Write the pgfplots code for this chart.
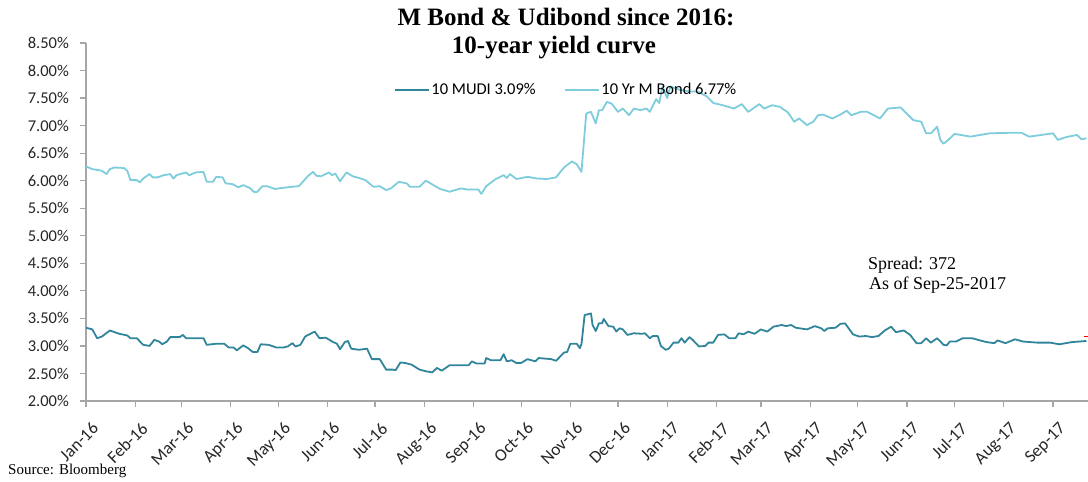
\documentclass[border=0pt]{standalone}
\usepackage{fontspec}
\setmainfont{Carlito}
\newfontfamily\pala{Liberation Serif}
\usepackage{pgfplots}
\pgfplotsset{compat=1.18}
\definecolor{mudi}{RGB}{49,133,155}
\definecolor{mbond}{RGB}{125,205,220}
\definecolor{axgray}{RGB}{166,166,166}
\begin{document}
\begin{tikzpicture}
\useasboundingbox (0,0) rectangle (1088bp,482bp);
\begin{axis}[
  at={(86bp,81bp)}, anchor=south west,
  scale only axis, width=1002bp, height=358bp,
  xmin=0, xmax=631, ymin=2, ymax=8.5,
  axis x line*=bottom, axis y line*=left,
  axis line style={axgray, line width=1.5bp},
  tick style={axgray, line width=1.2bp},
  tick align=outside, major tick length=6bp,
  ytick={2,2.5,...,8.5},
  xtick={0,31,60,91,121,152,182,213,244,274,305,335,366,397,425,456,486,517,547,578,609},
  xticklabels={Jan-16,Feb-16,Mar-16,Apr-16,May-16,Jun-16,Jul-16,Aug-16,Sep-16,Oct-16,Nov-16,Dec-16,Jan-17,Feb-17,Mar-17,Apr-17,May-17,Jun-17,Jul-17,Aug-17,Sep-17},
  /pgf/number format/assume math mode=true,
  yticklabel={\pgfmathprintnumber[fixed,fixed zerofill,precision=2]{\tick}\%},
  ticklabel style={font=\fontsize{16.5bp}{19bp}\selectfont, text=black!85},
  yticklabel style={anchor=east, inner sep=0pt, xshift=-11bp},
  xticklabel style={font=\fontsize{17.5bp}{20bp}\selectfont, inner sep=0pt, xshift=5bp, yshift=-14bp, rotate=45, anchor=north east},
  legend style={at={(0.479,0.869)}, anchor=center, draw=none, fill=none,
    font=\fontsize{16.5bp}{19bp}\selectfont, legend columns=2,
    /tikz/every even column/.append style={column sep=26bp}},
  legend image code/.code={\draw[#1] (0bp,0bp) -- (34bp,0bp);},
]
\addplot[mudi, line width=1.8bp, line join=round] coordinates {
(0,3.33)(4,3.30)(7,3.14)(10,3.17)(15,3.28)(21,3.22)(26,3.19)(28,3.14)(32,3.14)(36,3.02)
(40,3.00)(43,3.11)(46,3.08)(48,3.03)(51,3.08)(53,3.16)(59,3.16)(61,3.20)(63,3.14)(69,3.14)
(74,3.14)(76,3.02)(82,3.04)(87,3.04)(90,2.97)(93,2.97)(95,2.92)(99,3.01)(102,2.96)(105,2.89)
(108,2.89)(110,3.03)(115,3.02)(120,2.97)(124,2.97)(127,2.99)(130,3.05)(132,2.99)(135,3.02)(138,3.17)
(144,3.26)(147,3.14)(151,3.15)(155,3.08)(158,3.04)(160,2.94)(163,3.07)(165,3.09)(167,2.95)(172,2.93)
(177,2.95)(180,2.76)(185,2.76)(189,2.57)(193,2.57)(195,2.56)(198,2.70)(201,2.69)(205,2.66)(210,2.57)
(214,2.54)(218,2.52)(221,2.60)(224,2.55)(229,2.65)(233,2.65)(241,2.65)(243,2.72)(246,2.68)(251,2.68)
(252,2.78)(255,2.74)(261,2.74)(263,2.85)(265,2.72)(268,2.74)(271,2.69)(274,2.69)(278,2.76)(283,2.72)
(285,2.78)(293,2.76)(296,2.73)(301,2.88)(303,2.89)(305,3.04)(309,3.04)(311,2.96)(312,3.03)(314,3.56)
(318,3.59)(319,3.38)(321,3.27)(323,3.41)(325,3.41)(326,3.49)(329,3.36)(332,3.35)(334,3.26)(336,3.32)
(338,3.30)(341,3.20)(345,3.23)(350,3.22)(352,3.23)(355,3.14)(357,3.18)(360,3.18)(362,3.00)(365,2.93)
(367,2.95)(370,3.06)(373,3.06)(375,3.14)(377,3.06)(380,3.16)(382,3.11)(386,2.99)(390,3.00)(392,3.06)
(395,3.06)(398,3.20)(402,3.21)(405,3.14)(409,3.14)(411,3.23)(414,3.21)(417,3.26)(421,3.22)(425,3.30)
(429,3.26)(433,3.35)(438,3.38)(441,3.36)(444,3.38)(447,3.33)(454,3.30)(459,3.36)(463,3.32)(465,3.27)
(467,3.32)(472,3.33)(475,3.40)(478,3.41)(481,3.29)(483,3.21)(487,3.17)(491,3.18)(495,3.16)(499,3.18)
(503,3.28)(507,3.35)(510,3.25)(515,3.28)(519,3.20)(523,3.05)(526,3.05)(529,3.14)(532,3.06)(536,3.14)
(540,3.02)(542,3.01)(544,3.08)(548,3.08)(552,3.14)(558,3.14)(563,3.10)(567,3.07)(572,3.05)(574,3.10)
(579,3.05)(585,3.12)(590,3.08)(599,3.06)(607,3.06)(613,3.03)(621,3.07)(630,3.09)
};
\addlegendentry{10 MUDI 3.09\%}
\addplot[mbond, line width=1.8bp, line join=round] coordinates {
(0,6.26)(4,6.21)(10,6.18)(13,6.12)(15,6.21)(18,6.24)(24,6.23)(26,6.18)(28,6.01)(32,6.01)
(34,5.97)(36,6.04)(40,6.12)(42,6.06)(45,6.06)(49,6.10)(53,6.12)(55,6.04)(57,6.10)(63,6.15)
(65,6.10)(69,6.15)(74,6.16)(76,5.98)(80,5.98)(82,6.07)(86,6.06)(88,5.95)(92,5.94)(96,5.88)
(99,5.92)(103,5.87)(106,5.79)(108,5.80)(111,5.90)(114,5.90)(119,5.85)(124,5.87)(130,5.89)(134,5.90)
(140,6.09)(143,6.16)(145,6.09)(148,6.08)(153,6.15)(155,6.10)(157,6.13)(160,5.99)(164,6.15)(168,6.08)
(173,6.04)(176,6.01)(181,5.89)(185,5.90)(189,5.83)(192,5.86)(197,5.98)(202,5.95)(204,5.89)(210,5.89)
(214,6.00)(217,5.95)(223,5.85)(229,5.80)(236,5.86)(240,5.84)(247,5.84)(249,5.76)(252,5.90)(258,6.03)
(263,6.10)(265,6.05)(267,6.12)(271,6.03)(278,6.07)(284,6.04)(290,6.03)(296,6.06)(301,6.24)(306,6.35)
(309,6.30)(312,6.16)(315,7.22)(318,7.25)(321,7.04)(323,7.28)(325,7.28)(328,7.43)(331,7.40)(335,7.25)
(338,7.31)(342,7.19)(345,7.31)(349,7.28)(353,7.31)(355,7.25)(359,7.48)(361,7.41)(363,7.71)(366,7.50)
(368,7.71)(374,7.65)(380,7.62)(385,7.62)(391,7.53)(395,7.41)(401,7.37)(408,7.31)(413,7.39)(417,7.25)
(424,7.39)(427,7.31)(432,7.37)(437,7.34)(442,7.24)(446,7.07)(449,7.13)(454,7.01)(458,7.07)(461,7.19)
(464,7.20)(470,7.13)(475,7.20)(479,7.27)(482,7.19)(488,7.25)(492,7.25)(500,7.13)(505,7.31)(513,7.33)
(521,7.10)(526,7.07)(529,6.86)(532,6.86)(536,6.98)(538,6.74)(540,6.67)(543,6.74)(547,6.85)(557,6.80)
(569,6.86)(582,6.87)(589,6.87)(594,6.80)(609,6.86)(612,6.74)(617,6.79)(624,6.83)(627,6.75)(630,6.77)
};
\addlegendentry{10 Yr M Bond 6.77\%}
\addplot[red, only marks, mark=-, mark size=2.5bp, line width=1bp, forget plot] coordinates {(630,3.17)};
\end{axis}
\node[anchor=base, font={\pala\bfseries\fontsize{25bp}{28bp}\selectfont}] at (566bp,456bp) {M Bond \& Udibond since 2016:};
\node[anchor=base, font={\pala\bfseries\fontsize{25bp}{28bp}\selectfont}] at (554bp,428bp) {10-year yield curve};
\node[anchor=base west, inner sep=0pt, font={\pala\fontsize{18bp}{20bp}\selectfont}] at (868bp,212bp) {Spread: 372};
\node[anchor=base west, inner sep=0pt, font={\pala\fontsize{18bp}{20bp}\selectfont}] at (869bp,192bp) {As of Sep-25-2017};
\node[anchor=base west, inner sep=0pt, font={\pala\fontsize{15bp}{17bp}\selectfont}] at (8bp,8bp) {Source: Bloomberg};
\end{tikzpicture}
\end{document}
